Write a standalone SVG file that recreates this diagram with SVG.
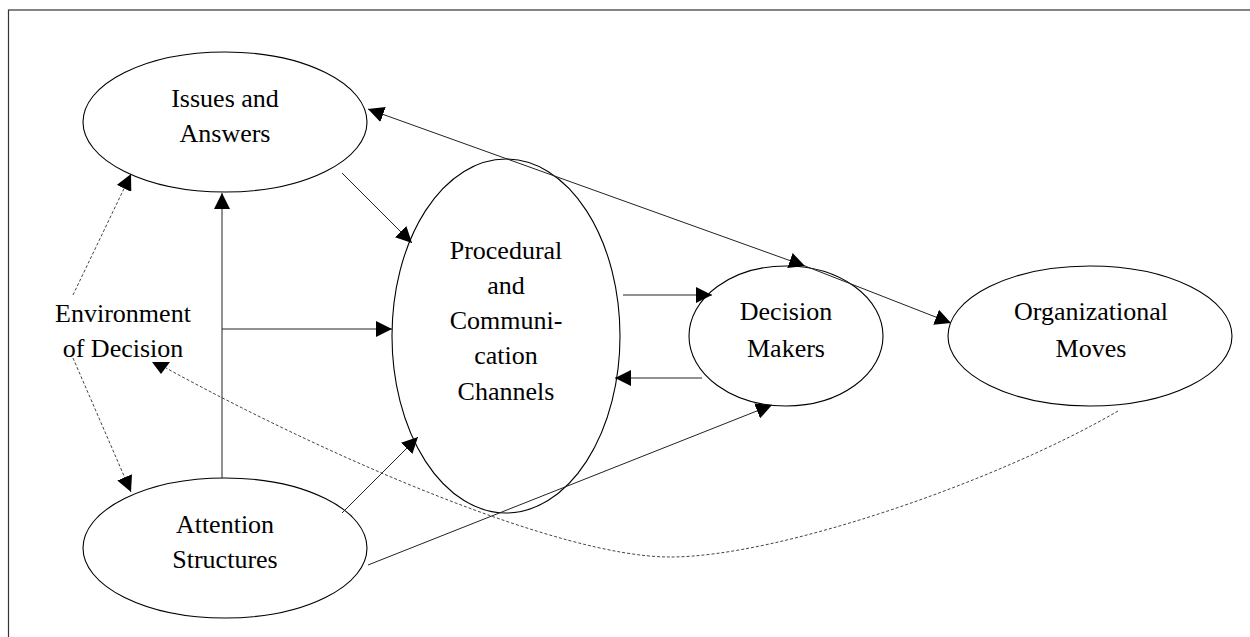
<svg xmlns="http://www.w3.org/2000/svg" width="1250" height="637" viewBox="0 0 1250 637">
  <style>
    .node ellipse { fill: none; stroke: #000000; stroke-width: 1.1; }
    .lbl { font-family: "Liberation Serif", "Times New Roman", serif; font-size: 26px; fill: #000000; text-anchor: middle; }
    .edge { fill: none; stroke: #222222; stroke-width: 1; }
    .dash { fill: none; stroke: #444444; stroke-width: 1; stroke-dasharray: 3 2; }
    .head { fill: #000000; stroke: none; }
  </style>
  <defs>
    <marker id="arrow" markerUnits="userSpaceOnUse" markerWidth="16" markerHeight="16" viewBox="0 0 15 15" refX="15" refY="7.5" orient="auto-start-reverse">
      <path d="M0,0 L15,7.5 L0,15 z" fill="#000000"/>
    </marker>
  </defs>

  <rect x="0" y="0" width="1250" height="637" fill="#ffffff"/>
  <!-- outer frame, running past the right and bottom edges -->
  <rect x="8.5" y="10" width="1260" height="640" fill="none" stroke="#333333" stroke-width="1.2"/>

  <g id="issues-answers" class="node">
    <ellipse cx="225" cy="122" rx="142" ry="70"/>
    <text class="lbl" x="225" y="107">Issues and</text>
    <text class="lbl" x="225" y="142">Answers</text>
  </g>

  <g id="attention-structures" class="node">
    <ellipse cx="225" cy="548" rx="142" ry="70"/>
    <text class="lbl" x="225" y="533">Attention</text>
    <text class="lbl" x="225" y="568">Structures</text>
  </g>

  <g id="procedural-channels" class="node">
    <ellipse cx="506" cy="336" rx="114" ry="177"/>
    <text class="lbl" x="506" y="259">Procedural</text>
    <text class="lbl" x="506" y="294">and</text>
    <text class="lbl" x="506" y="329">Communi-</text>
    <text class="lbl" x="506" y="364">cation</text>
    <text class="lbl" x="506" y="400">Channels</text>
  </g>

  <g id="decision-makers" class="node">
    <ellipse cx="786" cy="336" rx="97" ry="70"/>
    <text class="lbl" x="786" y="320">Decision</text>
    <text class="lbl" x="786" y="357">Makers</text>
  </g>

  <g id="organizational-moves" class="node">
    <ellipse cx="1090" cy="336" rx="142" ry="70"/>
    <text class="lbl" x="1091" y="320">Organizational</text>
    <text class="lbl" x="1091" y="357">Moves</text>
  </g>

  <g id="environment-of-decision">
    <text class="lbl" x="123" y="322">Environment</text>
    <text class="lbl" x="123" y="357">of Decision</text>
  </g>

  <g id="connectors">
    <!-- dotted links from the environment -->
    <line class="dash" x1="73" y1="295" x2="131" y2="174" marker-end="url(#arrow)"/>
    <line class="dash" x1="73" y1="358" x2="131" y2="492" marker-end="url(#arrow)"/>
    <path class="dash" d="M1118,411 C1000,480 780,557 670,557 C560,557 330,458 166,368"/>
    <polygon class="head" points="152,362 170,362 161,374"/>

    <!-- solid links -->
    <line class="edge" x1="368" y1="109" x2="805" y2="266" marker-start="url(#arrow)" marker-end="url(#arrow)"/>
    <line class="edge" x1="805" y1="266" x2="951" y2="323" marker-end="url(#arrow)"/>
    <line class="edge" x1="342" y1="173" x2="412" y2="243" marker-end="url(#arrow)"/>
    <line class="edge" x1="222" y1="478" x2="222" y2="193" marker-end="url(#arrow)"/>
    <line class="edge" x1="222" y1="329" x2="392" y2="329" marker-end="url(#arrow)"/>
    <line class="edge" x1="342" y1="513" x2="418" y2="437" marker-end="url(#arrow)"/>
    <line class="edge" x1="368" y1="565" x2="772" y2="405" marker-end="url(#arrow)"/>
    <line class="edge" x1="623" y1="295" x2="712" y2="295" marker-end="url(#arrow)"/>
    <line class="edge" x1="702" y1="378" x2="615" y2="378" marker-end="url(#arrow)"/>
  </g>
</svg>
